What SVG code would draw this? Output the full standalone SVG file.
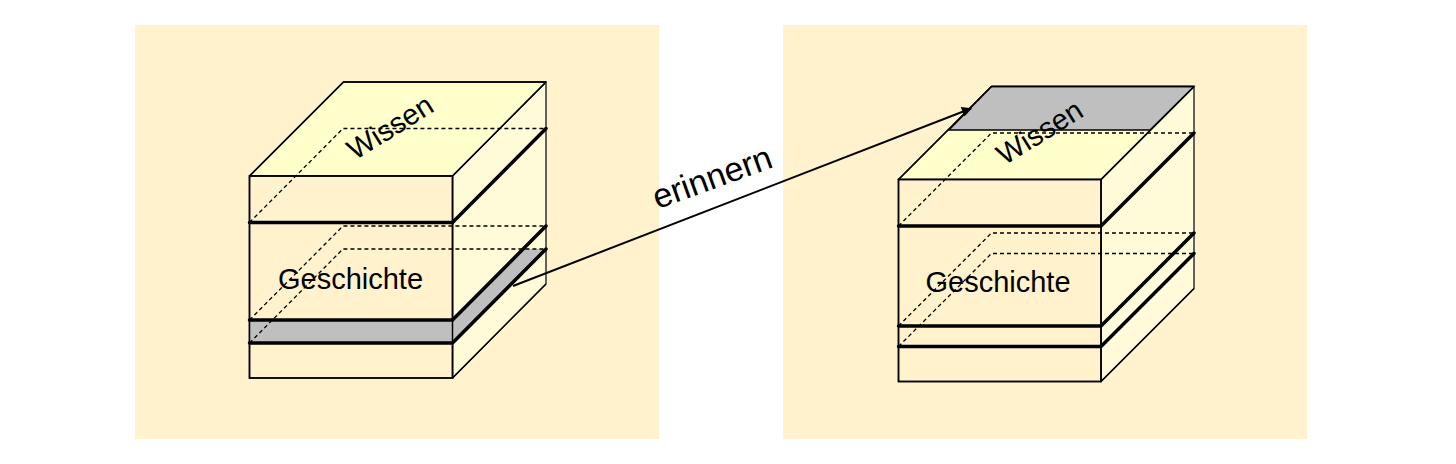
<svg xmlns="http://www.w3.org/2000/svg" width="1456" height="464" viewBox="0 0 1456 464">
<defs>
<style>
.panel{fill:#FFF2CC}
.front{fill:#FFF2CC;stroke:#000;stroke-width:1.5}
.top{fill:#FFFFCC;stroke:#000;stroke-width:1.5;stroke-linejoin:round}
.side{fill:#FFFAD8;stroke:#000;stroke-width:1.3;stroke-linejoin:round}
.gray{fill:#BFBFBF;stroke:none}
.grayline{fill:#BFBFBF;stroke:#000;stroke-width:1.3}
.dash{fill:none;stroke:#000;stroke-width:1.3;stroke-dasharray:4 3}
.thick{fill:none;stroke:#000;stroke-width:3.5;stroke-linecap:round}
.thin{fill:none;stroke:#000;stroke-width:1.3}
.back{fill:none;stroke:#6b6b6b;stroke-width:1.2}
.lbl{font-family:"Liberation Sans",Arial,sans-serif;font-size:29px;fill:#000}
.arrow{fill:none;stroke:#000;stroke-width:2}
</style>
<marker id="ah" viewBox="0 0 10 10" refX="9" refY="5" markerWidth="6" markerHeight="5" markerUnits="strokeWidth" orient="auto">
<path d="M0,0 L10,5 L0,10 z" fill="#000"/>
</marker>
</defs>
<rect width="1456" height="464" fill="#fff"/>
<g id="panel-left"><rect class="panel" x="135" y="25" width="524" height="414"/></g>
<g id="panel-right"><rect class="panel" x="783" y="25" width="524" height="414"/></g>

<g id="cube-left">
<polygon class="side" points="452.5,176 546,82 546,284 452.5,378"/>
<polygon class="top" points="249.5,176 343.5,82 546,82 452.5,176"/>
<rect class="front" x="249.5" y="176" width="203" height="202"/>
<rect class="gray" x="249.5" y="320" width="203" height="23"/>
<polygon class="gray" points="452.5,320 524,249 546,249 452.5,343"/>
<polyline class="dash" points="249.5,222.5 343,128.5 546,128.5"/>
<polyline class="dash" points="249.5,320 343,226 546,226"/>
<polyline class="dash" points="249.5,343 343,249 546,249"/>
<line class="back" x1="546" y1="82" x2="546" y2="284"/>
<polyline class="thick" points="249.5,222.5 452.5,222.5 546,128.5"/>
<polyline class="thick" points="249.5,320 452.5,320 546,226"/>
<polyline class="thick" points="249.5,343 452.5,343 546,249"/>
<rect x="249.5" y="176" width="203" height="202" fill="none" stroke="#000" stroke-width="1.5"/>
<polyline class="thin" points="249.5,176 343.5,82 546,82"/>
<line class="thin" x1="452.5" y1="176" x2="546" y2="82"/>
<line class="thin" x1="452.5" y1="378" x2="546" y2="284"/>
<text class="lbl" transform="translate(390.5,128) rotate(-32)" x="0" y="9" text-anchor="middle">Wissen</text>
<text class="lbl" x="350.5" y="289" text-anchor="middle">Geschichte</text>
</g>

<g id="cube-right">
<polygon class="side" points="1101,179.5 1194,86.5 1194,288.5 1101,381.5"/>
<polygon class="top" points="898.5,179.5 991.5,86.5 1194,86.5 1101,179.5"/>
<polygon class="grayline" points="991.5,86.5 1194,86.5 1150,130 949,130"/>
<rect class="front" x="898.5" y="179.5" width="202.5" height="202"/>
<polyline class="dash" points="898.5,226 991.5,133 1194,133"/>
<polyline class="dash" points="898.5,326 991.5,233 1194,233"/>
<polyline class="dash" points="898.5,346.5 991.5,253.5 1194,253.5"/>
<line class="back" x1="1194" y1="86.5" x2="1194" y2="288.5"/>
<polyline class="thick" points="898.5,226 1101,226 1194,133"/>
<polyline class="thick" points="898.5,326 1101,326 1194,233"/>
<polyline class="thick" points="898.5,346.5 1101,346.5 1194,253.5"/>
<rect x="898.5" y="179.5" width="202.5" height="202" fill="none" stroke="#000" stroke-width="1.5"/>
<polyline class="thin" points="898.5,179.5 991.5,86.5 1194,86.5"/>
<line class="thin" x1="1101" y1="179.5" x2="1194" y2="86.5"/>
<line class="thin" x1="1101" y1="381.5" x2="1194" y2="288.5"/>
<text class="lbl" transform="translate(1040,133) rotate(-32)" x="0" y="9" text-anchor="middle">Wissen</text>
<text class="lbl" x="998" y="292" text-anchor="middle">Geschichte</text>
</g>

<g id="connectors">
<line class="arrow" x1="513" y1="286" x2="971" y2="108.5" marker-end="url(#ah)"/>
<text class="lbl" style="font-size:34px" transform="translate(716,188) rotate(-20)" x="0" y="0" text-anchor="middle">erinnern</text>
</g>
</svg>
